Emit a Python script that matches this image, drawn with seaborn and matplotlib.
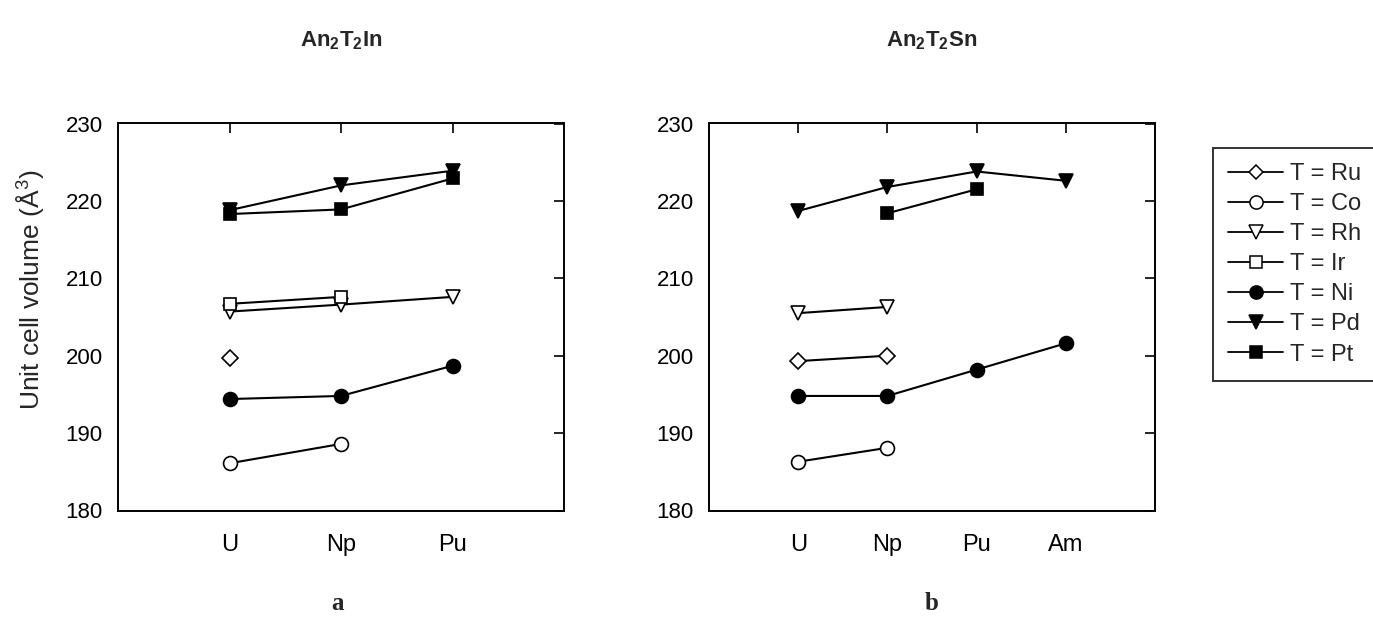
import matplotlib
matplotlib.use("Agg")
import matplotlib.pyplot as plt
import seaborn as sns
import pandas as pd
from matplotlib.lines import Line2D

# ---------------- data ----------------
an_in = ["U", "Np", "Pu"]
an_sn = ["U", "Np", "Pu", "Am"]
series = ["Ru", "Co", "Rh", "Ir", "Ni", "Pd", "Pt"]

# An2T2In (None = no compound)
in_Ru = [199.7, None, None]
in_Co = [186.1, 188.6, None]
in_Rh = [205.7, 206.6, 207.6]
in_Ir = [206.7, 207.6, None]
in_Ni = [194.4, 194.8, 198.7]
in_Pd = [218.8, 222.0, 223.9]
in_Pt = [218.3, 218.9, 222.9]

# An2T2Sn
sn_Ru = [199.3, 200.0, None, None]
sn_Co = [186.3, 188.1, None, None]
sn_Rh = [205.5, 206.3, None, None]
sn_Ir = [None, None, None, None]
sn_Ni = [194.8, 194.8, 198.2, 201.6]
sn_Pd = [218.7, 221.8, 223.8, 222.6]
sn_Pt = [None, 218.4, 221.5, None]

yticks = [180, 190, 200, 210, 220, 230]

in_data = dict(Ru=in_Ru, Co=in_Co, Rh=in_Rh, Ir=in_Ir, Ni=in_Ni, Pd=in_Pd, Pt=in_Pt)
sn_data = dict(Ru=sn_Ru, Co=sn_Co, Rh=sn_Rh, Ir=sn_Ir, Ni=sn_Ni, Pd=sn_Pd, Pt=sn_Pt)

# ---------------- style ----------------
sns.set_style("white")
plt.rcParams["font.family"] = ["Liberation Sans", "DejaVu Sans"]
plt.rcParams["mathtext.fontset"] = "custom"
plt.rcParams["mathtext.bf"] = "Liberation Sans:bold"
plt.rcParams["mathtext.rm"] = "Liberation Sans"

markers = dict(Ru="D", Co="o", Rh="v", Ir="s", Ni="o", Pd="v", Pt="s")
filled = dict(Ru=False, Co=False, Rh=False, Ir=False, Ni=True, Pd=True, Pt=True)
msize = dict(Ru=8, Co=10, Rh=10, Ir=9, Ni=10, Pd=10, Pt=9)

fig = plt.figure(figsize=(13.73, 6.32), dpi=100)
ax1 = fig.add_axes([118 / 1373, 1 - 510.5 / 632, 446 / 1373, 387 / 632])
ax2 = fig.add_axes([709 / 1373, 1 - 510.5 / 632, 446 / 1373, 387 / 632])


def draw(ax, cats, data, xmax):
    for s in series:
        vals = data[s]
        rows = [(i + 1, v) for i, v in enumerate(vals) if v is not None]
        if not rows:
            continue
        df = pd.DataFrame(rows, columns=["x", "y"])
        sns.lineplot(data=df, x="x", y="y", ax=ax, color="black", lw=1.5,
                     marker=markers[s], markersize=msize[s],
                     markerfacecolor="black" if filled[s] else "white",
                     markeredgecolor="black", markeredgewidth=1.2,
                     legend=False, zorder=3)
    ax.set_xlim(0, xmax)
    ax.set_ylim(180, 230)
    ax.set_xticks(range(1, len(cats) + 1))
    ax.set_xticklabels(cats)
    ax.set_yticks(yticks)
    ax.set_xlabel("")
    ax.set_ylabel("")
    ax.tick_params(direction="in", top=True, right=True, length=7, width=1.2,
                   colors="black")
    ax.tick_params(axis="x", pad=17, labelsize=17)
    ax.tick_params(axis="y", pad=11, labelsize=16)
    for sp in ax.spines.values():
        sp.set_visible(True)
        sp.set_color("black")
        sp.set_linewidth(1.4)


draw(ax1, an_in, in_data, 4)
draw(ax2, an_sn, sn_data, 5)

ax1.set_ylabel("Unit cell volume (Å$^3$)", fontsize=19)
ax1.yaxis.set_label_coords((47 - 118) / 446, (510.5 - 290) / 387)

fig.text(341 / 1373, 1 - 41 / 632, r"$\mathbf{An_2T_2In}$", ha="center", va="center", fontsize=16)
fig.text(932 / 1373, 1 - 41 / 632, r"$\mathbf{An_2T_2Sn}$", ha="center", va="center", fontsize=16)
fig.text(338 / 1373, 1 - 604 / 632, "a", ha="center", va="center", fontsize=18,
         fontweight="bold", family=["Liberation Serif", "DejaVu Serif"])
fig.text(932 / 1373, 1 - 604 / 632, "b", ha="center", va="center", fontsize=18,
         fontweight="bold", family=["Liberation Serif", "DejaVu Serif"])

handles = [Line2D([0], [0], color="black", lw=1.3, marker=markers[s],
                  markersize=msize[s] * 0.95,
                  markerfacecolor="black" if filled[s] else "white",
                  markeredgecolor="black", markeredgewidth=1.1)
           for s in series]
labels = [f"T = {s}" for s in series]
leg = fig.legend(handles, labels, loc="upper left",
                 bbox_to_anchor=(1213 / 1373, 1 - 148 / 632, 220 / 1373, 0),
                 mode="expand", borderaxespad=0,
                 frameon=True, fancybox=False, fontsize=17,
                 handlelength=2.3, labelspacing=0.34, borderpad=0.65,
                 handletextpad=0.3)
leg.get_frame().set_edgecolor("black")
leg.get_frame().set_linewidth(1.4)

fig.savefig("out.png", dpi=100)
